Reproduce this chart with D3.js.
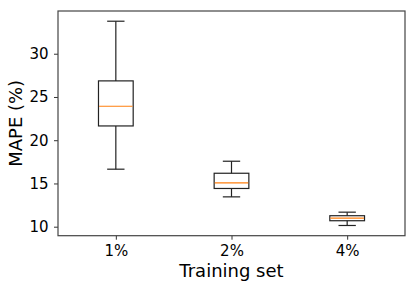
<!DOCTYPE html>
<html>
<head>
  <meta charset="utf-8">
  <title>MAPE by training set</title>
  <style>
    body { margin: 0; background: #fff; }
    svg { display: block; }
  </style>
  <script src="https://cdn.jsdelivr.net/npm/d3@7/dist/d3.min.js"></script>
</head>
<body>
<script>
  // box plot values
  var categories = ['1%', '2%', '4%'];
  var whiskerLow = [16.65, 13.45, 10.14];
  var q1 = [21.65, 14.42, 10.69];
  var median = [23.93, 15.06, 11.0];
  var q3 = [26.86, 16.18, 11.27];
  var whiskerHigh = [33.76, 17.57, 11.68];
  var yTicks = [10, 15, 20, 25, 30];

  var data = categories.map((c, i) => ({
    name: c, pos: i + 1,
    lo: whiskerLow[i], q1: q1[i], med: median[i], q3: q3[i], hi: whiskerHigh[i]
  }));

  var width = 416, height = 289;
  var m = { left: 58, top: 11, right: 405, bottom: 235.7 };
  var font = '"DejaVu Sans", sans-serif';

  // matplotlib style 5% padding
  var yMin = d3.min(whiskerLow), yMax = d3.max(whiskerHigh);
  var pad = (yMax - yMin) * 0.05;

  var x = d3.scaleLinear().domain([0.5, categories.length + 0.5]).range([m.left, m.right]);
  var y = d3.scaleLinear().domain([yMin - pad, yMax + pad]).range([m.bottom, m.top]);

  var svg = d3.select('body').append('svg')
    .attr('width', width)
    .attr('height', height)
    .attr('font-family', font);

  function styleAxis(g) {
    g.attr('font-family', font).attr('font-size', 15);
    g.select('.domain').remove();
    g.selectAll('.tick line').attr('stroke', '#333');
    g.selectAll('.tick text').attr('fill', '#000');
  }

  // axes
  svg.append('g')
    .attr('transform', `translate(${m.left},0)`)
    .call(d3.axisLeft(y).tickValues(yTicks).tickSize(4).tickPadding(5.5))
    .call(styleAxis);

  svg.append('g')
    .attr('transform', `translate(0,${m.bottom})`)
    .call(d3.axisBottom(x).tickValues(data.map(d => d.pos))
      .tickFormat((d, i) => categories[i]).tickSize(4).tickPadding(5.5))
    .call(styleAxis);

  // boxes
  var boxW = 0.3, capW = 0.15;
  var box = svg.selectAll('.box')
    .data(data)
    .enter()
    .append('g')
    .classed('box', true)
    .attr('stroke', '#222')
    .attr('stroke-width', 1.2)
    .attr('fill', 'none');

  box.append('line')
    .attr('x1', d => x(d.pos)).attr('x2', d => x(d.pos))
    .attr('y1', d => y(d.hi)).attr('y2', d => y(d.q3));
  box.append('line')
    .attr('x1', d => x(d.pos)).attr('x2', d => x(d.pos))
    .attr('y1', d => y(d.q1)).attr('y2', d => y(d.lo));
  box.append('line')
    .attr('x1', d => x(d.pos - capW / 2)).attr('x2', d => x(d.pos + capW / 2))
    .attr('y1', d => y(d.hi)).attr('y2', d => y(d.hi));
  box.append('line')
    .attr('x1', d => x(d.pos - capW / 2)).attr('x2', d => x(d.pos + capW / 2))
    .attr('y1', d => y(d.lo)).attr('y2', d => y(d.lo));
  box.append('rect')
    .attr('x', d => x(d.pos - boxW / 2))
    .attr('width', d => x(d.pos + boxW / 2) - x(d.pos - boxW / 2))
    .attr('y', d => y(d.q3))
    .attr('height', d => y(d.q1) - y(d.q3));
  box.append('line')
    .attr('stroke', '#ff7f0e')
    .attr('x1', d => x(d.pos - boxW / 2) + 0.6).attr('x2', d => x(d.pos + boxW / 2) - 0.6)
    .attr('y1', d => y(d.med)).attr('y2', d => y(d.med));

  // frame
  svg.append('rect')
    .attr('x', m.left).attr('y', m.top)
    .attr('width', m.right - m.left).attr('height', m.bottom - m.top)
    .attr('fill', 'none')
    .attr('stroke', '#444')
    .attr('stroke-width', 1.2);

  // axis labels
  svg.append('text')
    .attr('x', (m.left + m.right) / 2)
    .attr('y', 276.7)
    .attr('text-anchor', 'middle')
    .attr('font-size', 18)
    .text('Training set');

  svg.append('text')
    .attr('transform', `translate(21.5,${(m.top + m.bottom) / 2}) rotate(-90)`)
    .attr('text-anchor', 'middle')
    .attr('font-size', 18)
    .text('MAPE (%)');
</script>
</body>
</html>
